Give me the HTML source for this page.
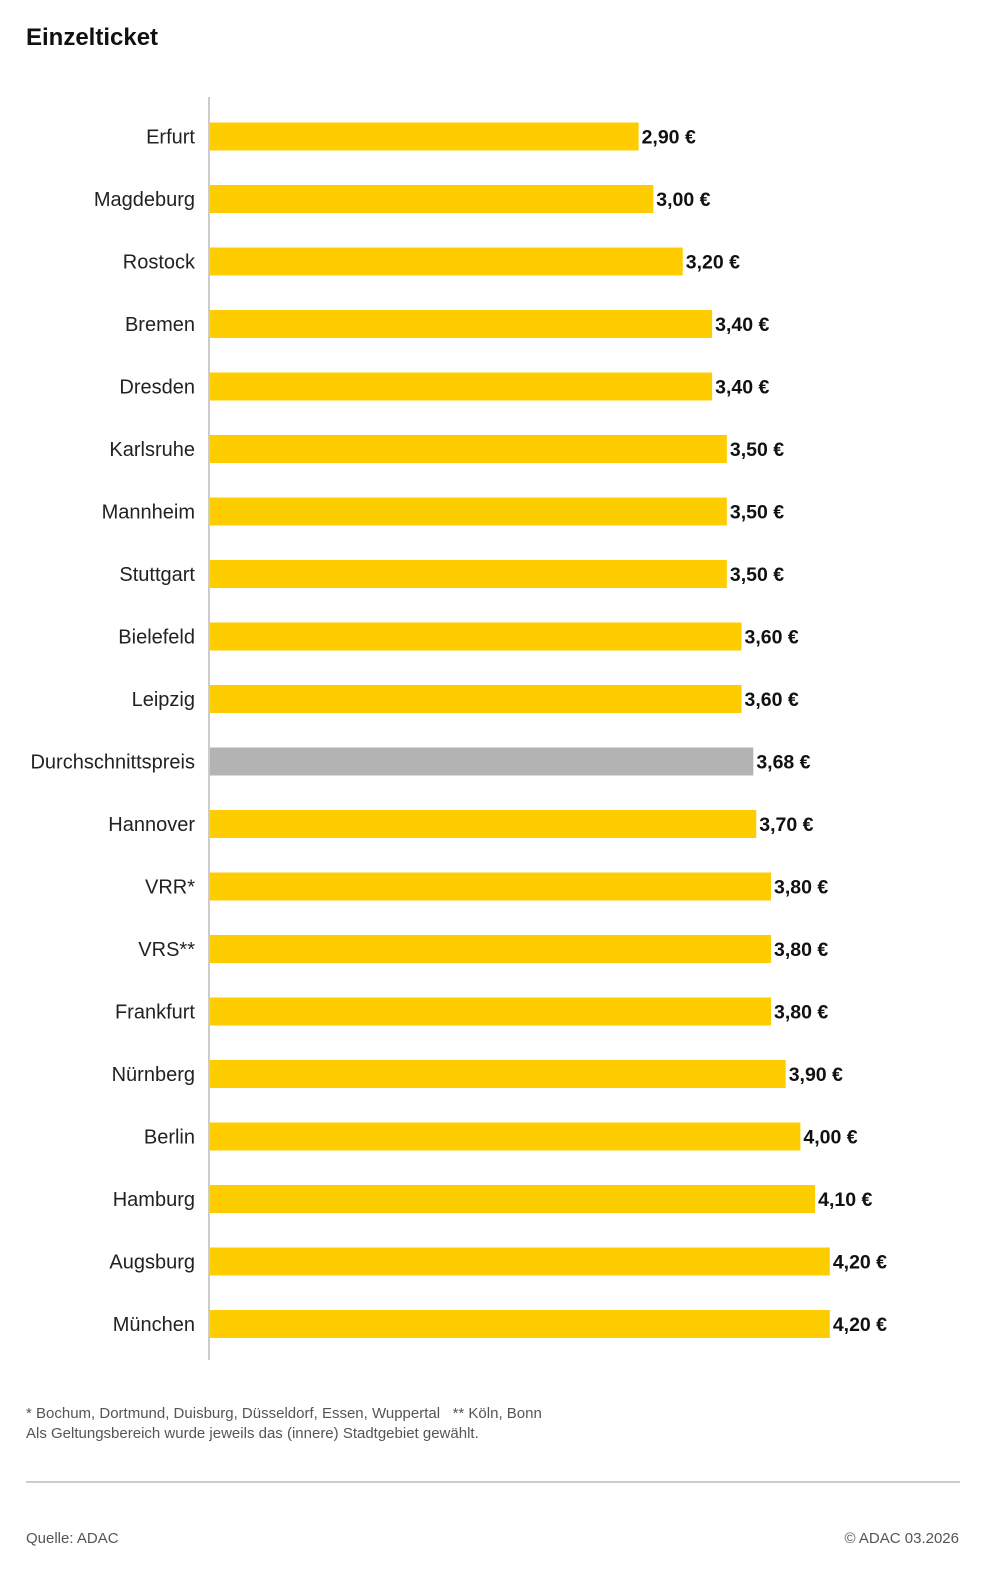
<!DOCTYPE html>
<html><head><meta charset="utf-8"><style>
body{margin:0;background:#fff;font-family:"Liberation Sans",sans-serif;}
#wrap{position:relative;width:988px;height:1571px;overflow:hidden}
.t{position:absolute;white-space:nowrap}
</style></head><body><div id="wrap">
<div class="t" style="left:26px;top:24px;font-size:24px;font-weight:bold;color:#111">Einzelticket</div>
<svg id="chart" width="988" height="1390" style="position:absolute;left:0;top:0"></svg>
<div class="t" style="left:26px;top:1405px;font-size:15px;color:#555">* Bochum, Dortmund, Duisburg, Düsseldorf, Essen, Wuppertal &nbsp;&nbsp;** Köln, Bonn</div>
<div class="t" style="left:26px;top:1425px;font-size:15px;color:#555">Als Geltungsbereich wurde jeweils das (innere) Stadtgebiet gewählt.</div>
<div style="position:absolute;left:26px;top:1481px;width:934px;height:2px;background:#ccc"></div>
<div class="t" style="left:26px;top:1530px;font-size:15px;color:#555">Quelle: ADAC</div>
<div class="t" style="right:29px;top:1530px;font-size:15px;color:#555">© ADAC 03.2026</div>
</div>
<script>
const categories=["Erfurt","Magdeburg","Rostock","Bremen","Dresden","Karlsruhe","Mannheim","Stuttgart","Bielefeld","Leipzig","Durchschnittspreis","Hannover","VRR*","VRS**","Frankfurt","Nürnberg","Berlin","Hamburg","Augsburg","München"];
const values=[2.90,3.00,3.20,3.40,3.40,3.50,3.50,3.50,3.60,3.60,3.68,3.70,3.80,3.80,3.80,3.90,4.00,4.10,4.20,4.20];
const labels=values.map(v=>v.toFixed(2).replace('.',',')+' €');
const ns="http://www.w3.org/2000/svg";
const svg=document.getElementById('chart');
const x0=210,pxPer=147.1,y0=136.5,step=62.5,bh=28;
const xs=v=>x0+2+v*pxPer, ys=i=>y0+i*step;
function mk(t,a){const e=document.createElementNS(ns,t);for(const k in a)e.setAttribute(k,a[k]);svg.appendChild(e);return e;}
categories.forEach((c,i)=>{
 const y=ys(i);
 const r=mk('rect',{x:x0,y:y-bh/2,width:xs(values[i])-x0,height:bh,fill:c==="Durchschnittspreis"?"#b3b3b3":"#ffcc00"});
 
 
 const l=mk('text',{x:195,y:y+7,'text-anchor':'end','font-size':20,fill:'#222'});l.textContent=c;
 
 
 const v=mk('text',{x:xs(values[i])+3,y:y+7,'font-size':19.5,'font-weight':'bold',fill:'#111'});v.textContent=labels[i];
 
 
});
const ax=mk('line',{x1:209,x2:209,y1:97,y2:1360,stroke:'#ccc','stroke-width':2});


</script></body></html>
